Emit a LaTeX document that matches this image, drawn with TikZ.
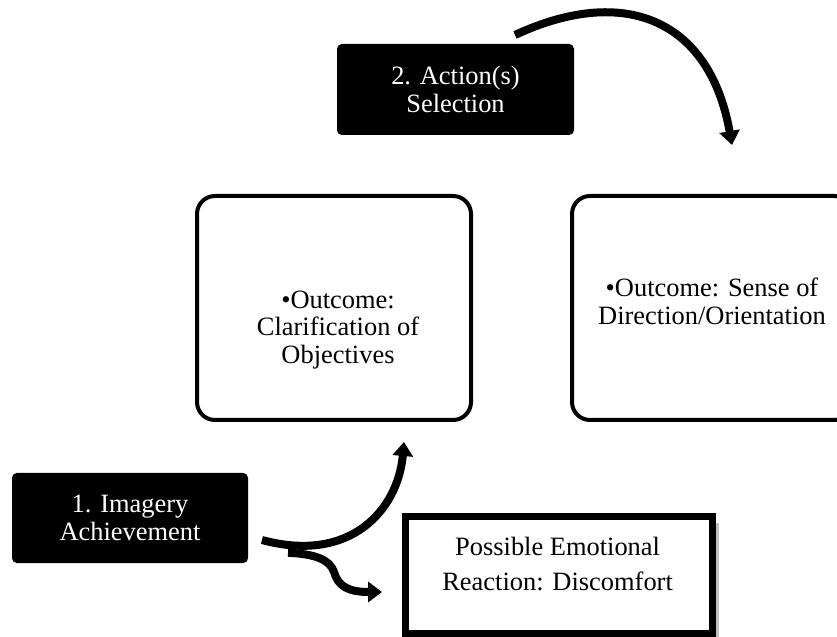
\documentclass[tikz,border=0pt]{standalone}
\usepackage{fontspec}
\setmainfont{Liberation Serif}
\usetikzlibrary{arrows.meta,shadows}
\tikzset{
	stepbox/.style={fill=black, text=white, rounded corners=0.12cm, inner sep=0pt, align=center, font=\fontsize{18.8}{19.6}\selectfont},
	outbox/.style={draw, line width=0.1cm, rounded corners=0.45cm, inner sep=0pt},
	boxtext/.style={align=center, inner sep=0pt, font=\fontsize{18.8}{19.6}\selectfont},
	flow/.style={line width=0.2cm, -{Triangle[width=0.5cm,length=0.35cm]}},
}

\begin{document}
\begin{tikzpicture}
		%%%%% START %%%%%
		\useasboundingbox (0, 0) rectangle (20.925, 15.9);
		
		\node[stepbox, minimum width=5.9cm, minimum height=2.25cm] (imagery) at (3.25, 2.95) {1. Imagery\\Achievement};
		\node[stepbox, minimum width=5.925cm, minimum height=2.275cm] (action) at (11.3875, 13.6625) {2. Action(s)\\Selection};
		
		\node[outbox, minimum width=6.85cm, minimum height=5.6cm] (clarif) at (8.35, 8.2) {};
		\node[boxtext] (clariftext) at (8.45, 7.65) {\textbullet Outcome:\\Clarification of\\Objectives};
		
		\node[outbox, minimum width=7.0cm, minimum height=5.6cm] (orient) at (17.8, 8.2) {};
		\node[boxtext] (orienttext) at (17.8, 8.36) {\textbullet Outcome: Sense of\\Direction/Orientation};
		
		\node[draw, fill=white, line width=0.175cm, inner sep=0pt, minimum width=7.675cm, minimum height=2.925cm,
			drop shadow={shadow xshift=0.17cm, shadow yshift=-0.17cm, fill=black!30, opacity=0.8}] (emotion) at (13.975, 1.525) {};
		\node[boxtext, font=\fontsize{18.8}{24.9}\selectfont] (emotiontext) at (13.94, 1.79) {Possible Emotional\\Reaction: Discomfort};
		
		% arrow from step 2 over to the right box
		\coordinate (actout) at (12.875, 15.025);
		\coordinate (orientin) at (18.3, 12.275);
		\draw[flow] (actout) .. controls (15.59, 16.29) and (17.74, 15.43) .. (orientin);
		
		% arrow from step 1 up to the left box
		\coordinate (imagout) at (6.55, 2.4);
		\coordinate (clarifin) at (10.1, 4.85);
		\draw[flow] (imagout) .. controls (8.77, 1.80) and (9.95, 3.16) .. (clarifin);
		
		% branch to the reaction box
		\coordinate (fork) at (7.2, 2.08);
		\coordinate (emotionin) at (9.55, 1.1);
		\draw[flow] (fork) .. controls (7.9, 2.05) and (8.25, 1.9) .. (8.35, 1.6) .. controls (8.45, 1.25) and (8.7, 1.1) .. (emotionin);
		
		%%%%% END %%%%%
\end{tikzpicture}
\end{document}
